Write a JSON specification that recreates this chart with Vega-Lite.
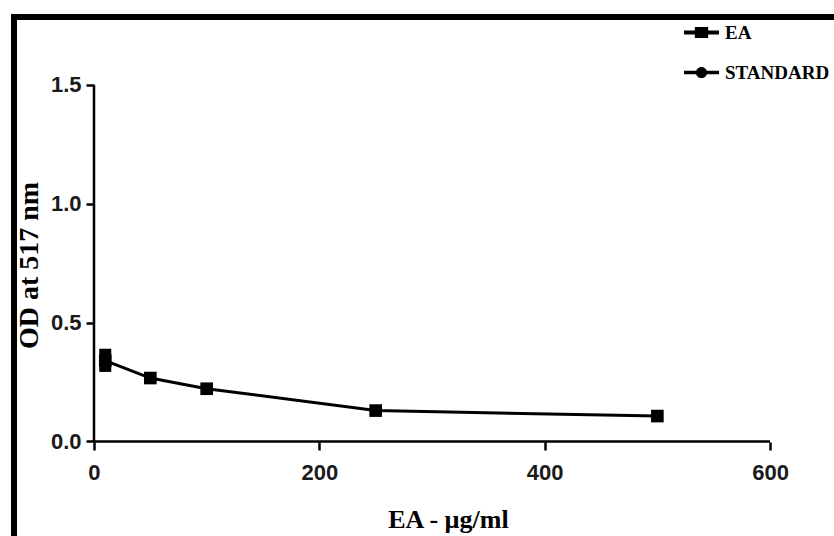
{
  "$schema": "https://vega.github.io/schema/vega-lite/v6.json",
  "width": 826,
  "height": 525,
  "autosize": {"type": "none"},
  "padding": {"left": 14, "top": 17, "right": 0, "bottom": 0},
  "background": "white",
  "config": {
    "view": {"stroke": "black", "strokeWidth": 6},
    "axis": {
      "domain": false,
      "grid": false,
      "labelFont": "Liberation Sans",
      "labelFontWeight": "bold",
      "labelFontSize": 22,
      "labelColor": "#1a1a1a",
      "tickColor": "black",
      "tickWidth": 2.5,
      "titleFont": "Liberation Serif",
      "titleFontWeight": "bold",
      "titleColor": "black"
    }
  },
  "datasets": {
    "ea": [
      {"conc": 10, "od": 0.34, "lo": 0.318, "hi": 0.365, "series": "EA"},
      {"conc": 50, "od": 0.267, "series": "EA"},
      {"conc": 100, "od": 0.222, "series": "EA"},
      {"conc": 250, "od": 0.13, "series": "EA"},
      {"conc": 500, "od": 0.107, "series": "EA"}
    ],
    "axislines": [
      {"conc": 0, "conc2": 0, "od": 0, "od2": 1.5},
      {"conc": 0, "conc2": 600, "od": 0, "od2": 0}
    ]
  },
  "encoding": {
    "x": {
      "field": "conc",
      "type": "quantitative",
      "scale": {"domain": [-71, 662.1], "nice": false, "zero": false},
      "axis": {
        "values": [0, 200, 400, 600],
        "offset": -100,
        "tickSize": 8,
        "labelPadding": 12,
        "title": "EA - µg/ml",
        "titleFontSize": 26,
        "titleX": 434,
        "titleY": 85,
        "titleAlign": "center",
        "titleBaseline": "alphabetic"
      }
    },
    "y": {
      "field": "od",
      "type": "quantitative",
      "scale": {"domain": [-0.4229, 1.7861], "nice": false, "zero": false},
      "axis": {
        "values": [0, 0.5, 1, 1.5],
        "format": ".1f",
        "offset": -80,
        "tickSize": 8,
        "labelPadding": 5,
        "title": "OD at 517 nm",
        "titleFontSize": 28,
        "titleAngle": -90,
        "titleX": -65,
        "titleY": 248,
        "titleAlign": "center",
        "titleBaseline": "middle"
      }
    }
  },
  "layer": [
    {
      "data": {"name": "axislines"},
      "mark": {"type": "rule", "color": "black", "strokeWidth": 2.5},
      "encoding": {
        "x2": {"field": "conc2"},
        "y2": {"field": "od2"}
      }
    },
    {
      "data": {"name": "ea"},
      "mark": {"type": "line", "color": "black", "strokeWidth": 3}
    },
    {
      "data": {"name": "ea"},
      "transform": [{"filter": "isValid(datum.lo)"}],
      "mark": {"type": "rule", "color": "black", "strokeWidth": 12, "strokeCap": "square"},
      "encoding": {
        "y": {
          "field": "lo",
          "type": "quantitative",
          "axis": {
            "values": [0, 0.5, 1, 1.5],
            "format": ".1f",
            "offset": -80,
            "tickSize": 8,
            "labelPadding": 5,
            "title": "OD at 517 nm",
            "titleFontSize": 28,
            "titleAngle": -90,
            "titleX": -65,
            "titleY": 248,
            "titleAlign": "center",
            "titleBaseline": "middle"
          }
        },
        "y2": {"field": "hi"}
      }
    },
    {
      "data": {"name": "ea"},
      "mark": {"type": "point", "filled": true, "color": "black", "opacity": 1, "size": 160, "shape": "square"}
    },
    {
      "data": {"name": "ea"},
      "mark": {"type": "point", "filled": true, "color": "black", "opacity": 0},
      "encoding": {
        "shape": {
          "field": "series",
          "type": "nominal",
          "scale": {
            "domain": ["EA", "STANDARD"],
            "range": [
              "M-1,-0.11H1V0.11H-1Z M-0.38,-0.32H0.38V0.32H-0.38Z",
              "M-1,-0.1H1V0.1H-1Z M0.32,0A0.32,0.32,0,1,1,-0.32,0A0.32,0.32,0,1,1,0.32,0Z"
            ]
          },
          "legend": {
            "orient": "none",
            "legendX": 670,
            "legendY": -2,
            "title": null,
            "padding": 0,
            "rowPadding": 12,
            "labelOffset": 6,
            "labelFont": "Liberation Serif",
            "labelFontWeight": "bold",
            "labelFontSize": 19,
            "labelColor": "black",
            "symbolSize": 1225,
            "symbolFillColor": "black",
            "symbolStrokeWidth": 0,
            "symbolOpacity": 1,
            "labelExpr": "datum.label == 'EA' ? '\u2003EA' : datum.label"
          }
        }
      }
    }
  ]
}
